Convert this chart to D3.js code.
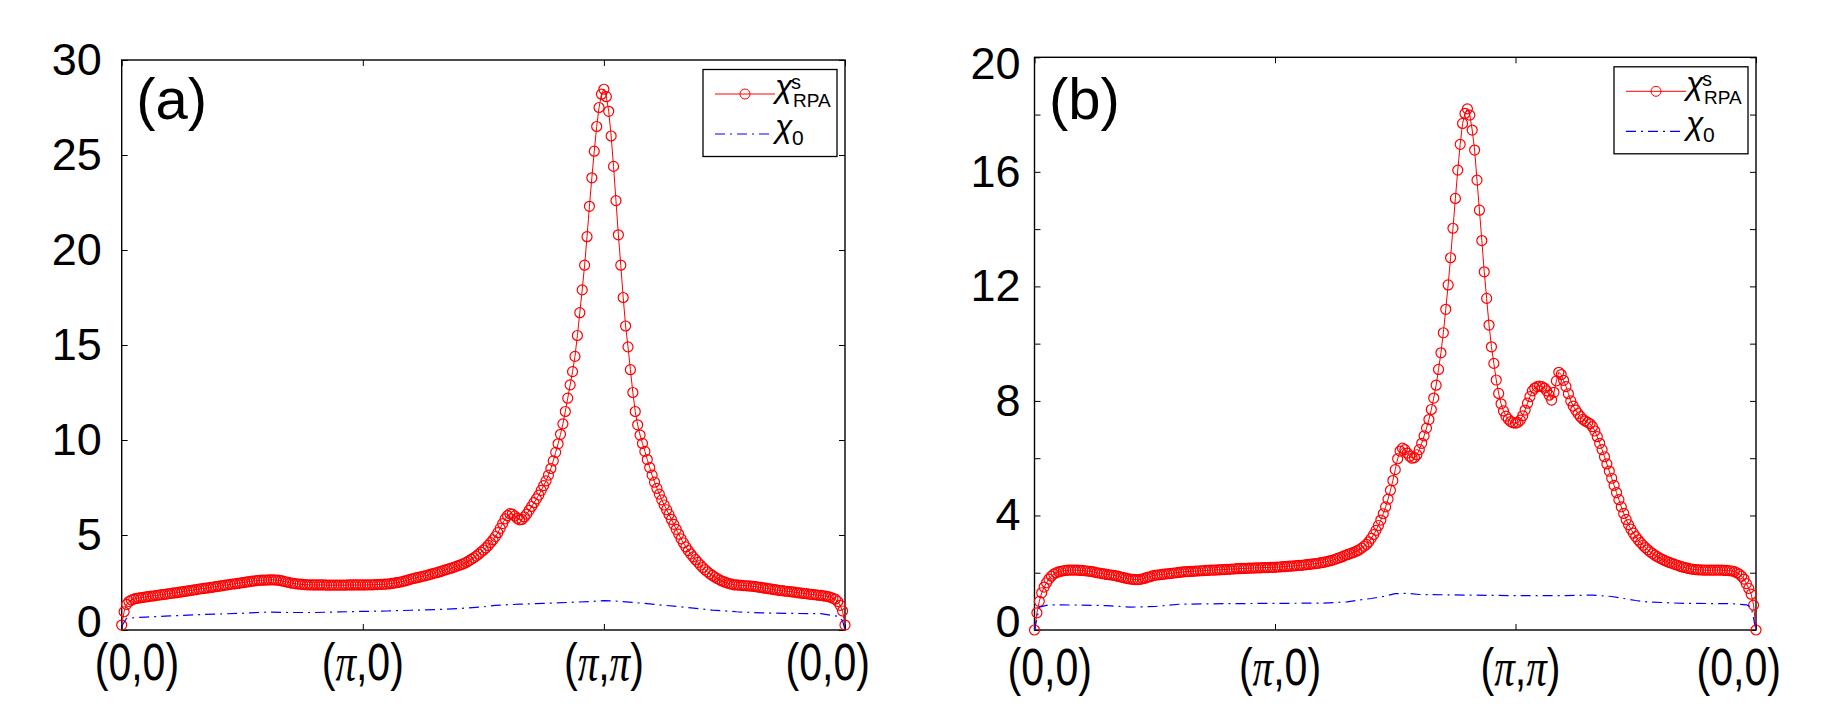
<!DOCTYPE html>
<html lang="en">
<head>
<meta charset="UTF-8">
<title>chi RPA vs chi0</title>
<script src="https://d3js.org/d3.v7.min.js"></script>
<style>
  body { margin: 0; background: #fff; }
  svg { display: block; font-family: "Liberation Sans", Arial, sans-serif; }
</style>
</head>
<body>
<svg width="1846" height="707" id="mainsvg"></svg>
<script>
// k-path (0,0) -> (pi,0) -> (pi,pi) -> (0,0), 301 points, index of each corner
const kIndex = [0, 100, 200, 300];
const kLabels = ['(0,0)', '(π,0)', '(π,π)', '(0,0)'];

const yTicksA = [0, 5, 10, 15, 20, 25, 30];
const yLabelsA = [0, 5, 10, 15, 20, 25, 30];
const yTicksB = [0, 2, 4, 6, 8, 10, 12, 14, 16, 18, 20];
const yLabelsB = [0, 4, 8, 12, 16, 20];

// panel (a): chi^s_RPA, one value per k point
const chiRpaA = [
  0.26, 0.96, 1.35, 1.5, 1.58, 1.63, 1.66, 1.68, 1.7, 1.72,
  1.74, 1.76, 1.78, 1.79, 1.81, 1.83, 1.85, 1.86, 1.88, 1.9,
  1.92, 1.94, 1.95, 1.97, 1.99, 2.01, 2.03, 2.05, 2.07, 2.09,
  2.11, 2.13, 2.15, 2.17, 2.19, 2.2, 2.22, 2.24, 2.26, 2.28,
  2.3, 2.32, 2.34, 2.36, 2.38, 2.4, 2.42, 2.43, 2.45, 2.47,
  2.49, 2.51, 2.53, 2.55, 2.57, 2.58, 2.6, 2.61, 2.62, 2.63,
  2.63, 2.64, 2.64, 2.64, 2.63, 2.62, 2.6, 2.57, 2.54, 2.51,
  2.48, 2.46, 2.44, 2.42, 2.41, 2.4, 2.39, 2.38, 2.38, 2.37,
  2.37, 2.37, 2.37, 2.37, 2.37, 2.36, 2.36, 2.36, 2.36, 2.36,
  2.36, 2.36, 2.36, 2.36, 2.37, 2.37, 2.37, 2.37, 2.37, 2.37,
  2.37, 2.37, 2.38, 2.38, 2.38, 2.39, 2.39, 2.4, 2.4, 2.41,
  2.42, 2.43, 2.45, 2.47, 2.49, 2.51, 2.54, 2.57, 2.6, 2.64,
  2.68, 2.71, 2.74, 2.77, 2.8, 2.83, 2.86, 2.89, 2.93, 2.97,
  3.0, 3.03, 3.07, 3.11, 3.15, 3.19, 3.23, 3.27, 3.31, 3.36,
  3.4, 3.45, 3.5, 3.57, 3.64, 3.72, 3.8, 3.89, 3.99, 4.1,
  4.2, 4.32, 4.45, 4.6, 4.75, 4.92, 5.12, 5.35, 5.6, 5.85,
  6.02, 6.12, 6.1, 6.0, 5.88, 5.8, 5.82, 5.95, 6.1, 6.3,
  6.5, 6.7, 6.9, 7.1, 7.35, 7.6, 7.85, 8.15, 8.5, 8.9,
  9.35, 9.8, 10.3, 10.85, 11.5, 12.2, 12.9, 13.6, 14.4, 15.5,
  16.7, 17.9, 19.2, 20.7, 22.3, 23.8, 25.2, 26.5, 27.5, 28.2,
  28.46, 28.07, 27.3, 26.0, 24.4, 22.6, 20.8, 19.2, 17.5, 16.0,
  14.9, 13.7, 12.5, 11.5, 10.8, 10.26, 9.82, 9.4, 8.97, 8.55,
  8.15, 7.78, 7.45, 7.15, 6.85, 6.58, 6.33, 6.08, 5.82, 5.56,
  5.3, 5.05, 4.8, 4.58, 4.37, 4.18, 4.01, 3.85, 3.7, 3.56,
  3.42, 3.29, 3.17, 3.06, 2.96, 2.87, 2.79, 2.71, 2.64, 2.58,
  2.53, 2.48, 2.44, 2.41, 2.38, 2.37, 2.36, 2.35, 2.34, 2.33,
  2.32, 2.31, 2.3, 2.28, 2.26, 2.24, 2.22, 2.2, 2.18, 2.16,
  2.14, 2.12, 2.1, 2.08, 2.07, 2.05, 2.04, 2.02, 2.01, 1.99,
  1.97, 1.95, 1.94, 1.92, 1.91, 1.89, 1.88, 1.86, 1.85, 1.83,
  1.82, 1.8, 1.78, 1.76, 1.72, 1.67, 1.62, 1.5, 1.3, 1.0,
  0.26
];

// panel (a): chi_0, [k index, value]
const chi0A = [
  [0, 0.2], [2, 0.62], [10, 0.68], [20, 0.74], [30, 0.8], [40, 0.84], [50, 0.88],
  [60, 0.94], [70, 0.92], [80, 0.92], [90, 0.95], [100, 0.98], [110, 1.0], [120, 1.04],
  [130, 1.07], [140, 1.13], [150, 1.22], [155, 1.3], [165, 1.36], [175, 1.4], [185, 1.45],
  [195, 1.5], [200, 1.55], [205, 1.52], [215, 1.42], [225, 1.3], [235, 1.18], [245, 1.05],
  [255, 0.96], [265, 0.9], [280, 0.87], [290, 0.86], [294, 0.78], [297, 0.72], [299, 0.5], [300, 0.0]
];

// panel (b): chi^s_RPA
const chiRpaB = [
  0.0, 0.6, 1.0, 1.3, 1.5, 1.65, 1.78, 1.88, 1.95, 2.0,
  2.03, 2.05, 2.07, 2.08, 2.09, 2.09, 2.09, 2.09, 2.09, 2.08,
  2.08, 2.07, 2.06, 2.05, 2.04, 2.02, 2.0, 1.99, 1.97, 1.96,
  1.94, 1.93, 1.92, 1.91, 1.89, 1.87, 1.85, 1.83, 1.81, 1.79,
  1.78, 1.77, 1.76, 1.76, 1.77, 1.79, 1.81, 1.84, 1.86, 1.89,
  1.91, 1.92, 1.93, 1.94, 1.95, 1.96, 1.97, 1.98, 1.99, 2.0,
  2.01, 2.02, 2.03, 2.04, 2.04, 2.05, 2.05, 2.06, 2.06, 2.07,
  2.07, 2.08, 2.08, 2.09, 2.09, 2.09, 2.1, 2.1, 2.11, 2.11,
  2.12, 2.12, 2.13, 2.13, 2.14, 2.14, 2.15, 2.15, 2.15, 2.16,
  2.16, 2.16, 2.17, 2.17, 2.17, 2.18, 2.18, 2.18, 2.19, 2.19,
  2.19, 2.2, 2.2, 2.21, 2.21, 2.22, 2.23, 2.23, 2.24, 2.25,
  2.26, 2.26, 2.27, 2.28, 2.29, 2.3, 2.31, 2.32, 2.33, 2.35,
  2.36, 2.38, 2.4, 2.42, 2.44, 2.47, 2.5, 2.53, 2.56, 2.6,
  2.63, 2.66, 2.69, 2.72, 2.76, 2.8, 2.86, 2.92, 2.99, 3.08,
  3.2, 3.33, 3.48, 3.65, 3.84, 4.06, 4.3, 4.57, 4.88, 5.22,
  5.6, 5.98, 6.25, 6.35, 6.3, 6.18, 6.07, 6.0, 6.02, 6.12,
  6.3, 6.52, 6.78, 7.05, 7.35, 7.7, 8.1, 8.55, 9.1, 9.68,
  10.38, 11.2, 12.05, 13.0, 14.03, 15.07, 16.06, 16.96, 17.69, 18.04,
  18.2, 17.98, 17.46, 16.76, 15.71, 14.66, 13.6, 12.51, 11.58, 10.65,
  9.89, 9.31, 8.73, 8.26, 7.9, 7.65, 7.47, 7.36, 7.28, 7.24,
  7.22, 7.25, 7.33, 7.48, 7.68, 7.92, 8.15, 8.35, 8.45, 8.5,
  8.52, 8.5, 8.45, 8.35, 8.2, 8.03, 8.3, 8.7, 9.0, 8.92,
  8.72, 8.5, 8.25, 8.0, 7.82, 7.68, 7.56, 7.45, 7.36, 7.3,
  7.25, 7.2, 7.1, 6.95, 6.75, 6.52, 6.3, 6.05, 5.8, 5.55,
  5.3, 5.05, 4.8, 4.55, 4.3, 4.07, 3.86, 3.68, 3.52, 3.38,
  3.26, 3.15, 3.05, 2.96, 2.88, 2.8, 2.73, 2.67, 2.61, 2.56,
  2.51, 2.47, 2.43, 2.39, 2.36, 2.33, 2.3, 2.27, 2.24, 2.21,
  2.19, 2.17, 2.15, 2.13, 2.12, 2.11, 2.1, 2.1, 2.09, 2.09,
  2.09, 2.09, 2.09, 2.09, 2.09, 2.09, 2.09, 2.08, 2.08, 2.07,
  2.06, 2.04, 2.0, 1.95, 1.88, 1.78, 1.62, 1.45, 1.25, 0.87,
  0.0
];

// panel (b): chi_0
const chi0B = [
  [0, 0.0], [2, 0.8], [6, 0.88], [20, 0.87], [30, 0.85], [40, 0.8], [50, 0.82],
  [60, 0.9], [80, 0.92], [100, 0.93], [120, 0.94], [130, 0.98], [135, 1.05], [140, 1.1],
  [145, 1.17], [150, 1.27], [155, 1.28], [160, 1.24], [180, 1.22], [200, 1.2], [220, 1.2],
  [232, 1.22], [240, 1.17], [245, 1.1], [250, 1.03], [255, 0.98], [270, 0.93], [290, 0.92],
  [296, 0.88], [298, 0.8], [300, 0.0]
];

const svg = d3.select('#mainsvg');

// two panels side by side, frame positions
const panels = [
  { tag: '(a)', rpa: chiRpaA, bare: chi0A, yMax: 30, yTicks: yTicksA, yLabels: yLabelsA,
    left: 121.7, right: 845, top: 60, bottom: 630, tickPad: 20, xLabelY: 680, xShift: 0, topDrop: 0 },
  { tag: '(b)', rpa: chiRpaB, bare: chi0B, yMax: 20, yTicks: yTicksB, yLabels: yLabelsB,
    left: 1034.5, right: 1756, top: 57.3, bottom: 630, tickPad: 14, xLabelY: 685, xShift: 5, topDrop: 7 }
];

panels.forEach(p => {
  const x = d3.scaleLinear().domain([0, 300]).range([p.left, p.right]);
  const y = d3.scaleLinear().domain([0, p.yMax]).range([p.bottom, p.top]);
  const g = svg.append('g');

  // inward ticks on all four sides, only the left one carries numbers
  const bare = s => { s.select('.domain').remove(); s.selectAll('.tick text').remove(); };
  const yl = g.append('g').attr('transform', `translate(${p.left},0)`)
    .call(d3.axisLeft(y).tickValues(p.yTicks).tickSize(-6).tickPadding(p.tickPad)
      .tickFormat(d => p.yLabels.includes(d) ? d : ''))
    .attr('font-size', 45).attr('font-family', null);
  yl.select('.domain').remove();
  yl.selectAll('.tick text').filter(d => !p.yLabels.includes(d)).remove();
  yl.selectAll('.tick text')
    .attr('dy', d => 14.4 - (d === 0 ? 8 : 0) + (d === p.yMax ? p.topDrop : 0))
    .attr('fill', '#000');
  g.append('g').attr('transform', `translate(${p.right},0)`)
    .call(d3.axisRight(y).tickValues(p.yTicks).tickSize(-6)).call(bare);
  g.append('g').attr('transform', `translate(0,${p.bottom})`)
    .call(d3.axisBottom(x).tickValues(kIndex).tickSize(-6)).call(bare);
  g.append('g').attr('transform', `translate(0,${p.top})`)
    .call(d3.axisTop(x).tickValues(kIndex).tickSize(-6)).call(bare);
  g.selectAll('.tick line').attr('stroke', '#000').attr('stroke-width', 1);

  // frame
  g.append('rect')
    .attr('x', p.left).attr('y', p.top)
    .attr('width', p.right - p.left).attr('height', p.bottom - p.top)
    .attr('fill', 'none').attr('stroke', '#000').attr('stroke-width', 1.4);

  // k-path labels, squeezed horizontally, italic pi
  kLabels.forEach((lab, j) => {
    let tx = x(kIndex[j]) + p.xShift, anchor = 'middle';
    if (j === 0) { tx = x(kIndex[j]) - 27; anchor = 'start'; }
    else if (j === kIndex.length - 1) { tx = x(kIndex[j]) + 25; anchor = 'end'; }
    const t = g.append('text')
      .attr('transform', `translate(${tx},${p.xLabelY}) scale(0.79,1)`)
      .attr('text-anchor', anchor)
      .attr('font-size', 52);
    lab.split(/(π)/).forEach(part => {
      if (!part) return;
      const s = t.append('tspan').text(part);
      if (part === 'π') s.attr('font-family', '"Liberation Serif", "Times New Roman", serif').attr('font-style', 'italic');
    });
  });

  // chi^s_RPA : thin line + open circles
  const line = d3.line().x((d, i) => x(i)).y(d => y(d));
  g.append('path').datum(p.rpa)
    .attr('d', line)
    .attr('fill', 'none').attr('stroke', '#ff0000').attr('stroke-width', 1);
  g.append('g').selectAll('circle').data(p.rpa).join('circle')
    .attr('cx', (d, i) => x(i)).attr('cy', d => y(d)).attr('r', 5)
    .attr('fill', 'none').attr('stroke', '#ff0000').attr('stroke-width', 1.2);

  // chi_0 : blue dash-dot
  const line0 = d3.line().x(d => x(d[0])).y(d => y(d[1]));
  g.append('path').datum(p.bare)
    .attr('d', line0)
    .attr('fill', 'none').attr('stroke', '#0000ff').attr('stroke-width', 1.2)
    .attr('stroke-dasharray', '10,5,2,5');

  // panel tag
  g.append('text').text(p.tag)
    .attr('x', p.left + 14.5).attr('y', 119)
    .attr('font-size', 58);

  // legend box
  const lw = 134, lh = 87;
  const lg = g.append('g').attr('transform', `translate(${p.right - 8 - lw},${p.top + 9.5})`);
  lg.append('rect').attr('width', lw).attr('height', lh)
    .attr('fill', '#fff').attr('stroke', '#000').attr('stroke-width', 1.3);
  const r1 = 24.5, r2 = 64.5;
  lg.append('line').attr('x1', 12).attr('x2', 72).attr('y1', r1).attr('y2', r1)
    .attr('stroke', '#ff0000').attr('stroke-width', 1);
  lg.append('circle').attr('cx', 42).attr('cy', r1).attr('r', 5)
    .attr('fill', 'none').attr('stroke', '#ff0000').attr('stroke-width', 1);
  lg.append('line').attr('x1', 12).attr('x2', 66).attr('y1', r2).attr('y2', r2)
    .attr('stroke', '#0000ff').attr('stroke-width', 1.2).attr('stroke-dasharray', '10,5,2,5');

  lg.append('text').text('χ').attr('x', 72).attr('y', r1 + 2.5)
    .attr('font-size', 32).attr('font-style', 'italic');
  lg.append('text').text('s').attr('x', 88).attr('y', r1 - 5).attr('font-size', 20);
  lg.append('text').text('RPA').attr('x', 90).attr('y', r1 + 12.7).attr('font-size', 19);
  lg.append('text').text('χ').attr('x', 72).attr('y', r2 + 2.5)
    .attr('font-size', 32).attr('font-style', 'italic');
  lg.append('text').text('0').attr('x', 89).attr('y', r2 + 11).attr('font-size', 21);
});
</script>
</body>
</html>
